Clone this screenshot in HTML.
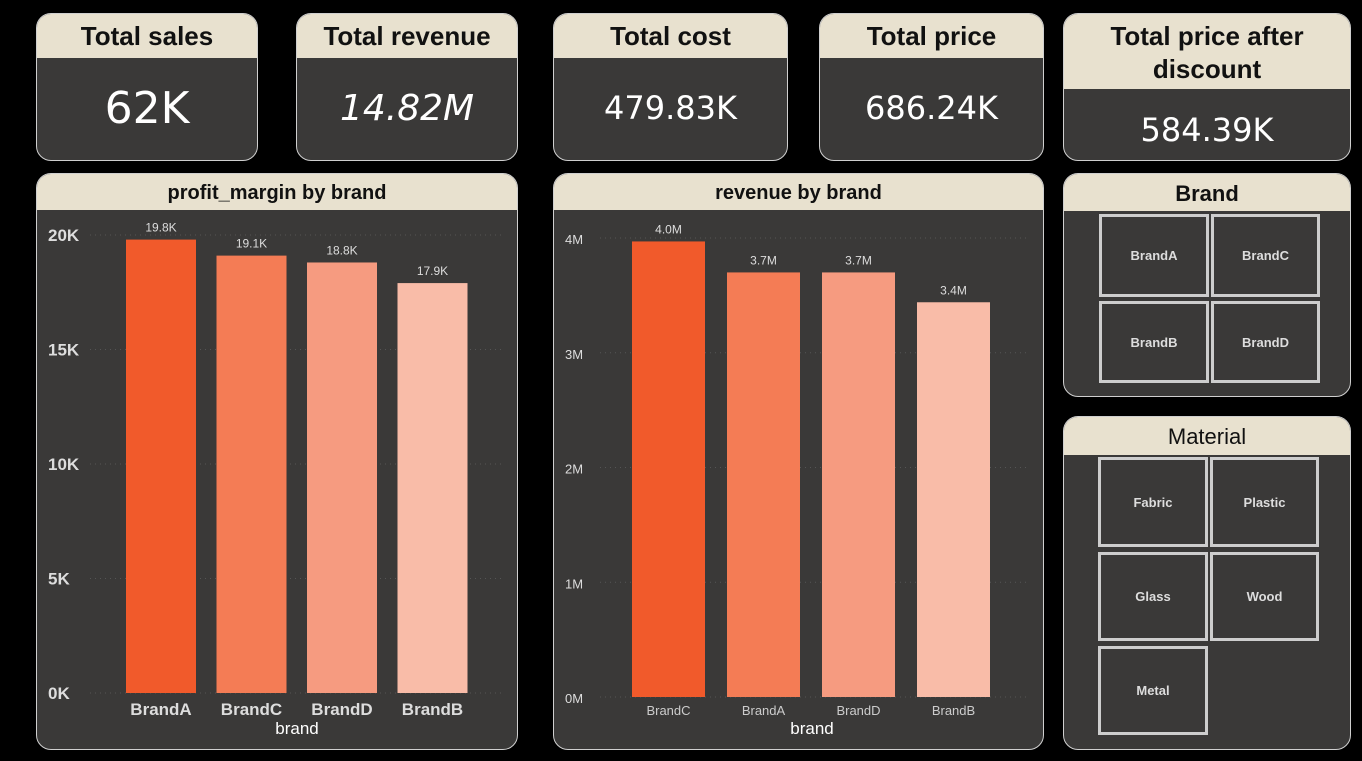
<!DOCTYPE html>
<html><head><meta charset="utf-8"><style>
body{margin:0;width:1362px;height:761px;background:#000;position:relative;overflow:hidden;font-family:"Liberation Sans",sans-serif;}
.card{position:absolute;background:#3a3938;border:1px solid #cfcfcf;border-radius:15px;overflow:hidden;box-sizing:border-box;}
.hd{background:#e8e1cf;color:#111;font-weight:bold;text-align:center;font-size:26px;}
.val{color:#fff;text-align:center;font-family:"DejaVu Sans",sans-serif;}
.tile{position:absolute;border:3px solid #cdcdcd;box-sizing:border-box;color:#ddd;font-weight:bold;font-size:13px;display:flex;align-items:center;justify-content:center;}
svg{position:absolute;left:0;top:0;}
</style></head><body>
<div class="card" style="left:36px;top:13px;width:222px;height:148px">
<div class="hd" style="height:44px;line-height:44px">Total sales</div>
<div class="val" style="font-size:44px;line-height:100px;margin-top:1px">62K</div></div>
<div class="card" style="left:296px;top:13px;width:222px;height:148px">
<div class="hd" style="height:44px;line-height:44px">Total revenue</div>
<div class="val" style="font-size:36px;line-height:100px;font-style:italic;margin-top:1px">14.82M</div></div>
<div class="card" style="left:553px;top:13px;width:235px;height:148px">
<div class="hd" style="height:44px;line-height:44px">Total cost</div>
<div class="val" style="font-size:32px;line-height:100px;margin-top:0px">479.83K</div></div>
<div class="card" style="left:819px;top:13px;width:225px;height:148px">
<div class="hd" style="height:44px;line-height:44px">Total price</div>
<div class="val" style="font-size:32px;line-height:100px;margin-top:0px">686.24K</div></div>
<div class="card" style="left:1063px;top:13px;width:288px;height:148px">
<div class="hd" style="height:75px;line-height:33px;padding-top:6px;box-sizing:border-box">Total price after<br>discount</div>
<div class="val" style="font-size:32px;line-height:82px">584.39K</div></div>

<div class="card" style="left:36px;top:173px;width:482px;height:577px">
<div class="hd" style="height:36px;line-height:38px;font-size:20px">profit_margin by brand</div></div>
<div class="card" style="left:553px;top:173px;width:491px;height:577px">
<div class="hd" style="height:36px;line-height:38px;font-size:20px">revenue by brand</div></div>

<div class="card" style="left:1063px;top:173px;width:288px;height:224px">
<div class="hd" style="height:37px;line-height:40px;font-size:22px">Brand</div>
<div class="tile" style="left:35px;top:40px;width:110px;height:83px">BrandA</div>
<div class="tile" style="left:147px;top:40px;width:109px;height:83px">BrandC</div>
<div class="tile" style="left:35px;top:127px;width:110px;height:82px">BrandB</div>
<div class="tile" style="left:147px;top:127px;width:109px;height:82px">BrandD</div></div>

<div class="card" style="left:1063px;top:416px;width:288px;height:334px">
<div class="hd" style="height:38px;line-height:40px;font-size:22px;font-weight:normal">Material</div>
<div class="tile" style="left:34px;top:40px;width:110px;height:90px">Fabric</div>
<div class="tile" style="left:146px;top:40px;width:109px;height:90px">Plastic</div>
<div class="tile" style="left:34px;top:135px;width:110px;height:89px">Glass</div>
<div class="tile" style="left:146px;top:135px;width:109px;height:89px">Wood</div>
<div class="tile" style="left:34px;top:229px;width:110px;height:89px">Metal</div></div>

<svg id="chart" width="1362" height="761"></svg>
<script>
const pmBrands=["BrandA","BrandC","BrandD","BrandB"];
const pmValues=[19800,19100,18800,17900];
const pmLabels=["19.8K","19.1K","18.8K","17.9K"];
const pmTicks=[0,5000,10000,15000,20000];
const pmTickLabels=["0K","5K","10K","15K","20K"];
const revBrands=["BrandC","BrandA","BrandD","BrandB"];
const revValues=[3.97,3.70,3.70,3.44];
const revLabels=["4.0M","3.7M","3.7M","3.4M"];
const revTicks=[0,1,2,3,4];
const revTickLabels=["0M","1M","2M","3M","4M"];
const colors=["#f15a2b","#f47c55","#f69b80","#f9bca8"];
const svg=document.getElementById('chart');
const NS='http://www.w3.org/2000/svg';
function mk(tag,attrs,text){const e=document.createElementNS(NS,tag);for(const k in attrs)e.setAttribute(k,attrs[k]);if(text!==undefined)e.textContent=text;svg.appendChild(e);return e;}
function draw(cfg){
  const y=v=>cfg.y0-(v/cfg.max)*(cfg.y0-cfg.yTop);
  const x=i=>cfg.x0+i*cfg.step;
  cfg.ticks.forEach((t,i)=>{
    const g=mk('line',{x1:cfg.gx1,x2:cfg.gx2,y1:y(t),y2:y(t),stroke:'#555','stroke-dasharray':'1 4'});
    
    
    const tl=mk('text',{x:cfg.tx,y:y(t)+6,fill:'#ddd','font-size':cfg.tickSize,'font-weight':cfg.bold?'bold':'normal','font-family':'Liberation Sans'},cfg.tickLabels[i]);
    
    
  });
  cfg.values.forEach((v,i)=>{
    const r=mk('rect',{x:x(i),y:y(v),width:cfg.w,height:cfg.y0-y(v),fill:colors[i]});
    
    
    const l=mk('text',{x:x(i)+cfg.w/2,y:y(v)-8,fill:'#ddd','font-size':12,'text-anchor':'middle','font-family':'Liberation Sans'},cfg.labels[i]);
    
    
    const c=mk('text',{x:x(i)+cfg.w/2,y:cfg.catY,fill:cfg.bold?'#ddd':'#ccc','font-size':cfg.catSize,'font-weight':cfg.bold?'bold':'normal','text-anchor':'middle','font-family':'Liberation Sans'},cfg.cats[i]);
    
    
  });
  const at=mk('text',{x:cfg.axX,y:734,fill:'#fff','font-size':17,'text-anchor':'middle','font-family':'Liberation Sans'},'brand');
  
  
}
draw({id:'profit-margin',cats:pmBrands,values:pmValues,labels:pmLabels,ticks:pmTicks,tickLabels:pmTickLabels,max:20000,y0:693,yTop:235,x0:126,step:90.5,w:70,tx:48,gx1:90,gx2:505,tickSize:17,bold:true,catY:715,catSize:17,axX:297});
draw({id:'revenue',cats:revBrands,values:revValues,labels:revLabels,ticks:revTicks,tickLabels:revTickLabels,max:4,y0:697,yTop:238,x0:632,step:95,w:73,tx:565,gx1:600,gx2:1030,tickSize:13,bold:false,catY:715,catSize:13,axX:812});
</script>
</body></html>
